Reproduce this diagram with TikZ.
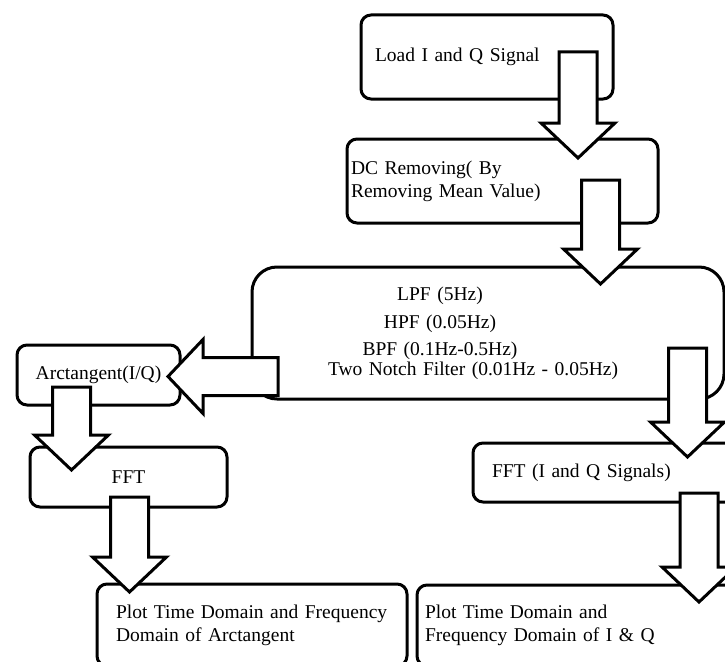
\documentclass[tikz,border=0pt]{standalone}
\usepackage{fontspec}
\setmainfont{Liberation Serif}
\usetikzlibrary{calc}
\tikzset{
    box/.style={draw, line width=3pt, rounded corners=10pt, fill=white,
        outer sep=0pt, inner ysep=0pt, font=\fontsize{19.5pt}{23pt}\selectfont},
    blockarrow/.style={draw, line width=3pt, fill=white, miter limit=10},
}
\newcommand\BlockArrow[2]{%
    \path ($(#2)!35pt!(#1)$) coordinate (hb);%
    \draw[blockarrow] ($(#1)!19pt!90:(#2)$) -- ($(hb)!19pt!90:(#2)$)
        -- ($(hb)!37pt!90:(#2)$) -- (#2) -- ($(hb)!37pt!-90:(#2)$)
        -- ($(hb)!19pt!-90:(#2)$) -- ($(#1)!19pt!-90:(#2)$) -- cycle;%
}

\begin{document}
\begin{tikzpicture}[x=1pt, y=-1pt]
\useasboundingbox (0,0) rectangle (725,661);
\clip (0,0) rectangle (725,661);

\node[box, minimum height=84pt, text width=224pt, inner xsep=14pt, align=left]
    (load) at (487,57) {Load I and Q Signal};
\node[box, minimum height=84pt, text width=303pt, inner xsep=4pt, align=left]
    (dcrem) at (502.5,181) {DC Removing( By\\Removing Mean Value)};
\node[box, rounded corners=25pt, minimum height=132pt, text width=440pt, inner xsep=16pt, align=center]
    (filters) at (488,333) {\hspace*{-96pt}LPF (5Hz)\\[5pt]
        \hspace*{-96pt}HPF (0.05Hz)\\[4pt]
        \hspace*{-96pt}BPF (0.1Hz-0.5Hz)\\[-3pt]
        \hspace*{-30pt}Two Notch Filter (0.01Hz - 0.05Hz)};
\node[box, minimum width=163pt, minimum height=60pt] (arctan) at (98.5,375) {Arctangent(I/Q)};
\node[box, minimum width=197pt, minimum height=60pt] (fftarc) at (128.5,477) {FFT};
\node[box, anchor=north west, minimum height=82pt, text width=272pt, inner xsep=19pt, align=left]
    (plotarc) at (97,584) {Plot Time Domain and Frequency\\Domain of Arctangent};
\node[box, anchor=west, minimum height=59pt, text width=260pt, inner xsep=19pt, align=left]
    (fftiq) at (473,472.5) {FFT (I and Q Signals)};
\node[box, anchor=north west, minimum height=81pt, text width=330pt, inner xsep=8pt, align=left]
    (plotiq) at (417,585) {Plot Time Domain and\\Frequency Domain of I \& Q};

% block arrows
\coordinate (a1s) at (578,52);    \coordinate (a1t) at (578,158);
\coordinate (a2s) at (600.5,180); \coordinate (a2t) at (600.5,284);
\coordinate (a3s) at (278,376.5); \coordinate (a3t) at (168,376.5);
\coordinate (a4s) at (71.5,387);  \coordinate (a4t) at (71.5,470);
\coordinate (a5s) at (129.5,497); \coordinate (a5t) at (129.5,592);
\coordinate (a6s) at (687.5,348); \coordinate (a6t) at (687.5,457);
\coordinate (a7s) at (699,493);   \coordinate (a7t) at (699,602);
\foreach \s/\t in {a1s/a1t, a2s/a2t, a3s/a3t, a4s/a4t, a5s/a5t, a6s/a6t, a7s/a7t}
    {\BlockArrow{\s}{\t}}
\end{tikzpicture}
\end{document}
